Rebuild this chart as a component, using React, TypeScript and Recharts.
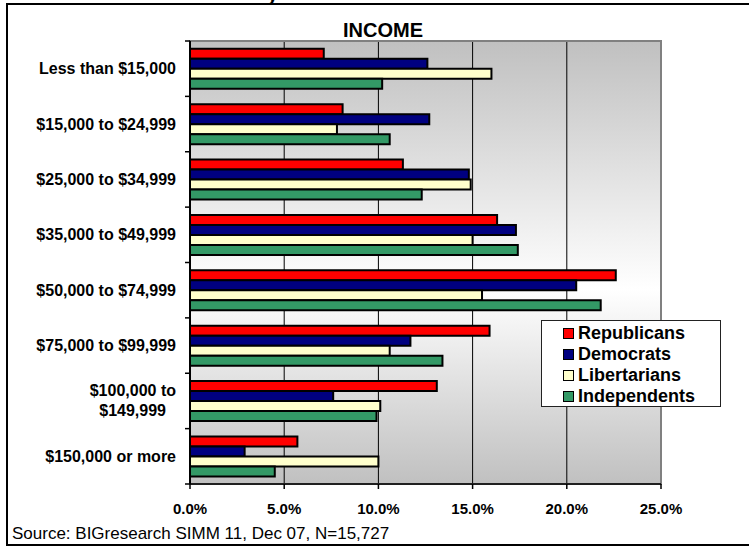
import React from "react"
import {
  BarChart,
  Bar,
  XAxis,
  YAxis,
  CartesianGrid,
  Legend,
  ReferenceArea,
} from "recharts"

const categories = [
  "Less than $15,000",
  "$15,000 to $24,999",
  "$25,000 to $34,999",
  "$35,000 to $49,999",
  "$50,000 to $74,999",
  "$75,000 to $99,999",
  "$100,000 to\n$149,999",
  "$150,000 or more",
]
const republicans = [7.1, 8.1, 11.3, 16.3, 22.6, 15.9, 13.1, 5.7]
const democrats = [12.6, 12.7, 14.8, 17.3, 20.5, 11.7, 7.6, 2.9]
const libertarians = [16.0, 7.8, 14.9, 15.0, 15.5, 10.6, 10.1, 10.0]
const independents = [10.2, 10.6, 12.3, 17.4, 21.8, 13.4, 9.9, 4.5]
const xTicks = [0, 5, 10, 15, 20, 25]

const series = [
  { key: "republicans", name: "Republicans", color: "#ff0000" },
  { key: "democrats", name: "Democrats", color: "#000080" },
  { key: "libertarians", name: "Libertarians", color: "#ffffcc" },
  { key: "independents", name: "Independents", color: "#339966" },
]

const data = categories.map((name, i) => ({
  name,
  republicans: republicans[i],
  democrats: democrats[i],
  libertarians: libertarians[i],
  independents: independents[i],
}))

const W = 749
const H = 546
const margin = { top: 41, right: 88, bottom: 32, left: 10 }
const X_AXIS_H = 30
const band = (H - margin.top - margin.bottom - X_AXIS_H) / categories.length
const FONT = '"Liberation Sans", Arial, sans-serif'

function CategoryTick(props: any) {
  const { x, y, payload, index } = props
  const lines = String(payload.value).split("\n")
  return (
    <g>
      <line x1={x + 9} x2={x + 14} y1={y - band / 2} y2={y - band / 2} stroke="#000" strokeWidth={1.5} />
      {index === categories.length - 1 && (
        <line x1={x + 9} x2={x + 14} y1={y + band / 2} y2={y + band / 2} stroke="#000" strokeWidth={1.5} />
      )}
      <text
        x={x}
        y={y}
        textAnchor="end"
        fontFamily={FONT}
        fontWeight="bold"
        fontSize={16}
        fill="#000"
      >
        {lines.map((l, i) => (
          <tspan
            key={i}
            x={i === 0 ? x : x - 10}
            dy={i === 0 ? (lines.length > 1 ? -4.5 : 5.5) : 20}
          >
            {l}
          </tspan>
        ))}
      </text>
    </g>
  )
}

function LegendBox(props: any) {
  const payload = [...(props.payload || [])].sort(
    (a: any, b: any) =>
      series.findIndex((s) => s.name === a.value) - series.findIndex((s) => s.name === b.value)
  )
  return (
    <div
      style={{
        border: "1.5px solid #222",
        background: "#fff",
        width: 178,
        height: 83,
        boxSizing: "content-box",
        paddingTop: 2,
      }}
    >
      {payload.map((p: any) => (
        <div
          key={p.value}
          style={{
            display: "flex",
            alignItems: "center",
            height: 21,
            paddingLeft: 21,
            fontFamily: FONT,
            fontWeight: "bold",
            fontSize: 18,
            color: "#000",
          }}
        >
          <span
            style={{
              display: "inline-block",
              width: 9,
              height: 9,
              border: "1.5px solid #000",
              background: p.color,
              marginRight: 4,
            }}
          />
          {p.value}
        </div>
      ))}
    </div>
  )
}

const line = (style: React.CSSProperties) => (
  <div style={{ position: "absolute", background: "#000", zIndex: 5, ...style }} />
)

export default function App() {
  return (
    <div style={{ position: "fixed", left: 0, top: 0, width: W, height: H, background: "#fff", overflow: "hidden" }}>
      <div style={{ position: "absolute", left: 267, top: -16, fontFamily: FONT, fontWeight: "bold", fontSize: 20, lineHeight: "20px" }}>y</div>
      <div
        style={{
          position: "absolute",
          left: 283,
          width: 200,
          top: 20,
          textAlign: "center",
          fontFamily: FONT,
          fontWeight: "bold",
          fontSize: 20,
          lineHeight: "20px",
        }}
      >
        INCOME
      </div>
      <div
        style={{
          position: "absolute",
          left: 12,
          top: 525,
          fontFamily: FONT,
          fontSize: 17,
          lineHeight: "17px",
          whiteSpace: "nowrap",
        }}
      >
        Source: BIGresearch SIMM 11, Dec 07, N=15,727
      </div>
      <div style={{ position: "absolute", left: 0, top: 0 }}>
        <BarChart
          width={W}
          height={H}
          data={data}
          layout="vertical"
          margin={margin}
          barCategoryGap="14%"
          barGap={0}
        >
          <defs>
            <linearGradient id="plotBg" x1="0" y1="0" x2="0" y2="1">
              <stop offset="0%" stopColor="#c0c0c0" />
              <stop offset="56%" stopColor="#ffffff" />
              <stop offset="100%" stopColor="#c0c0c0" />
            </linearGradient>
          </defs>
          <CartesianGrid
            horizontal={false}
            stroke="#000"
            strokeWidth={1}
            fill="url(#plotBg)"
            fillOpacity={1}
          />
          <ReferenceArea x1={0} x2={25} fill="none" stroke="#808080" strokeWidth={2} />
          <XAxis
            type="number"
            domain={[0, 25]}
            ticks={xTicks}
            height={X_AXIS_H}
            tickSize={5}
            tickMargin={14}
            tickFormatter={(v: number) => v.toFixed(1) + "%"}
            axisLine={{ stroke: "#000", strokeWidth: 1.5 }}
            tickLine={{ stroke: "#000", strokeWidth: 1.5 }}
            tick={{ fontFamily: FONT, fontWeight: "bold", fontSize: 15, fill: "#000" }}
          />
          <YAxis
            type="category"
            dataKey="name"
            width={180}
            tickSize={0}
            tickMargin={14}
            interval={0}
            axisLine={{ stroke: "#000", strokeWidth: 2 }}
            tickLine={false}
            tick={<CategoryTick />}
          />
          {series.map((s) => (
            <Bar
              key={s.key}
              dataKey={s.key}
              name={s.name}
              fill={s.color}
              stroke="#000"
              strokeWidth={2}
              isAnimationActive={false}
            />
          ))}
          <Legend
            layout="vertical"
            align="center"
            verticalAlign="middle"
            content={<LegendBox />}
            wrapperStyle={{ position: "absolute", left: 541, top: 320, width: 181, height: 89 }}
          />
        </BarChart>
      </div>
      {line({ left: 6, top: 3, width: 2, height: 543 })}
      {line({ left: 6, top: 3, width: W, height: 2 })}
      {line({ left: 6, top: 544, width: W, height: 2 })}
    </div>
  )
}
